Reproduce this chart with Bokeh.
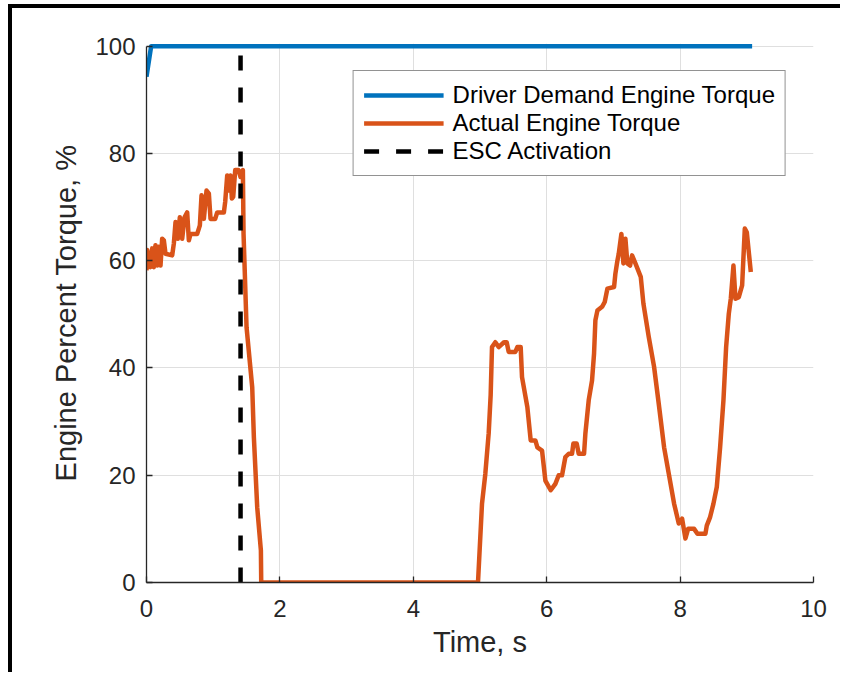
from bokeh.plotting import figure
from bokeh.models import Range1d, FixedTicker
from bokeh.embed import file_html
from bokeh.resources import INLINE

# ---------------- data ----------------
demand_time = [0.0, 0.07, 9.08]
demand_torque = [94.3, 100.0, 100.0]

actual_time = [
    0.00, 0.01, 0.06, 0.085, 0.11, 0.135, 0.16, 0.18, 0.21, 0.235, 0.26, 0.285,
    0.385, 0.41, 0.435, 0.47, 0.50, 0.535, 0.57, 0.61, 0.635, 0.66, 0.76, 0.80,
    0.825, 0.86, 0.90, 0.935, 0.96, 1.03, 1.06, 1.16, 1.18, 1.21, 1.23, 1.26,
    1.28, 1.30, 1.33, 1.38, 1.41, 1.445, 1.455, 1.50, 1.585, 1.61, 1.66, 1.715,
    1.72, 4.97, 5.03, 5.08, 5.13, 5.16, 5.18, 5.23, 5.28, 5.36, 5.40, 5.43,
    5.53, 5.56, 5.61, 5.63, 5.71, 5.76, 5.83, 5.86, 5.93, 5.98, 6.06, 6.13,
    6.18, 6.23, 6.28, 6.33, 6.38, 6.40, 6.45, 6.48, 6.56, 6.58, 6.63, 6.68,
    6.71, 6.73, 6.76, 6.83, 6.87, 6.91, 7.01, 7.03, 7.06, 7.08, 7.12, 7.15,
    7.18, 7.21, 7.25, 7.28, 7.33, 7.41, 7.45, 7.53, 7.61, 7.68, 7.76, 7.83,
    7.91, 7.98, 8.03, 8.08, 8.12, 8.21, 8.26, 8.38, 8.40, 8.45, 8.50, 8.55,
    8.60, 8.65, 8.69, 8.73, 8.76, 8.80, 8.83, 8.88, 8.93, 8.97, 9.00, 9.06,
]
actual_torque = [
    58.2, 62.0, 58.8, 62.3, 58.8, 62.9, 59.1, 62.6, 59.1, 64.1, 63.8, 61.3,
    61.0, 63.2, 67.2, 64.1, 68.1, 64.1, 68.1, 69.0, 63.8, 65.0, 65.0, 66.6,
    72.2, 67.8, 73.1, 72.5, 67.8, 67.8, 69.0, 69.0, 71.0, 75.9, 73.1, 75.9,
    71.6, 71.9, 76.9, 76.9, 75.6, 76.9, 65.0, 47.6, 36.4, 27.0, 14.0, 6.0,
    0.0, 0.0, 14.7, 20.3, 27.8, 35.0, 43.9, 44.8, 43.9, 44.8, 44.8, 43.0,
    43.0, 43.9, 43.9, 38.3, 32.7, 26.5, 26.5, 25.2, 24.6, 19.0, 17.2, 18.4,
    20.0, 20.0, 23.4, 24.0, 24.0, 25.9, 25.9, 24.0, 24.0, 27.8, 34.0, 37.7,
    42.7, 48.9, 50.7, 51.4, 52.3, 54.8, 55.1, 57.6, 60.0, 61.3, 65.0, 59.5,
    64.1, 59.5, 59.1, 61.0, 59.5, 57.0, 52.0, 45.8, 40.2, 33.3, 25.2, 20.3,
    14.7, 11.0, 11.9, 8.2, 10.0, 10.0, 9.1, 9.1, 10.6, 12.2, 14.7, 17.8,
    25.2, 34.0, 43.9, 50.1, 52.9, 59.1, 52.9, 53.2, 55.4, 66.0, 65.3, 57.9,
]

esc_time = [1.41, 1.41]
esc_torque = [0.0, 100.0]

x_ticks = [0, 2, 4, 6, 8, 10]
y_ticks = [0, 20, 40, 60, 80, 100]

# ---------------- figure ----------------
FONT = "Liberation Sans"
AX = "#262626"

p = figure(
    width=832, height=668,
    x_range=Range1d(0, 10), y_range=Range1d(0, 100.5),
    output_backend="svg", toolbar_location=None,
    min_border_left=134, min_border_right=31,
    min_border_top=35, min_border_bottom=94,
)
p.styles = {"border-top": "4px solid black", "border-left": "4px solid black",
            "margin-top": "4px", "margin-left": "8px"}
p.outline_line_color = None
p.background_fill_color = "white"
p.border_fill_color = "white"

# grid
p.xgrid.ticker = FixedTicker(ticks=x_ticks)
p.ygrid.ticker = FixedTicker(ticks=y_ticks)
for g in (p.xgrid, p.ygrid):
    g.grid_line_color = "#dfdfdf"
    g.grid_line_width = 1

# axes
p.xaxis.ticker = FixedTicker(ticks=x_ticks)
p.yaxis.ticker = FixedTicker(ticks=y_ticks)
p.xaxis.bounds = (0, 10)
p.yaxis.bounds = (0, 100)
p.xaxis.axis_label = "Time, s"
p.yaxis.axis_label = "Engine Percent Torque, %"
for ax in (p.xaxis, p.yaxis):
    ax.axis_line_color = AX
    ax.axis_line_width = 1.3
    ax.major_tick_line_color = AX
    ax.major_tick_line_width = 1.3
    ax.major_tick_in = 6
    ax.major_tick_out = 0
    ax.minor_tick_line_color = None
    ax.major_label_text_font = FONT
    ax.major_label_text_font_size = "24px"
    ax.major_label_text_color = AX
    ax.axis_label_text_font = FONT
    ax.axis_label_text_font_size = "29px"
    ax.axis_label_text_font_style = "normal"
    ax.axis_label_text_color = AX
p.xaxis.major_label_standoff = 17
p.yaxis.major_label_standoff = 11
p.xaxis.axis_label_standoff = 6
p.yaxis.axis_label_standoff = 10

# lines
p.line(demand_time, demand_torque, line_color="#0072BD", line_width=4.5,
       line_join="round", legend_label="Driver Demand Engine Torque")
p.line(actual_time, actual_torque, line_color="#D95319", line_width=4.5,
       line_join="round", legend_label="Actual Engine Torque")
p.line(esc_time, esc_torque, line_color="black", line_width=4.5,
       line_dash="15 17", legend_label="ESC Activation")

lg = p.legend[0]
lg.location = "top_right"
lg.margin = 27
lg.padding = 10
lg.spacing = 0
lg.glyph_width = 80
lg.glyph_height = 28
lg.label_height = 28
lg.label_standoff = 9
lg.label_text_font = FONT
lg.label_text_font_size = "24px"
lg.label_text_color = "black"
lg.border_line_color = AX
lg.border_line_width = 1
lg.background_fill_color = "white"
lg.background_fill_alpha = 1.0

open("out.html", "w").write(file_html(p, INLINE))
